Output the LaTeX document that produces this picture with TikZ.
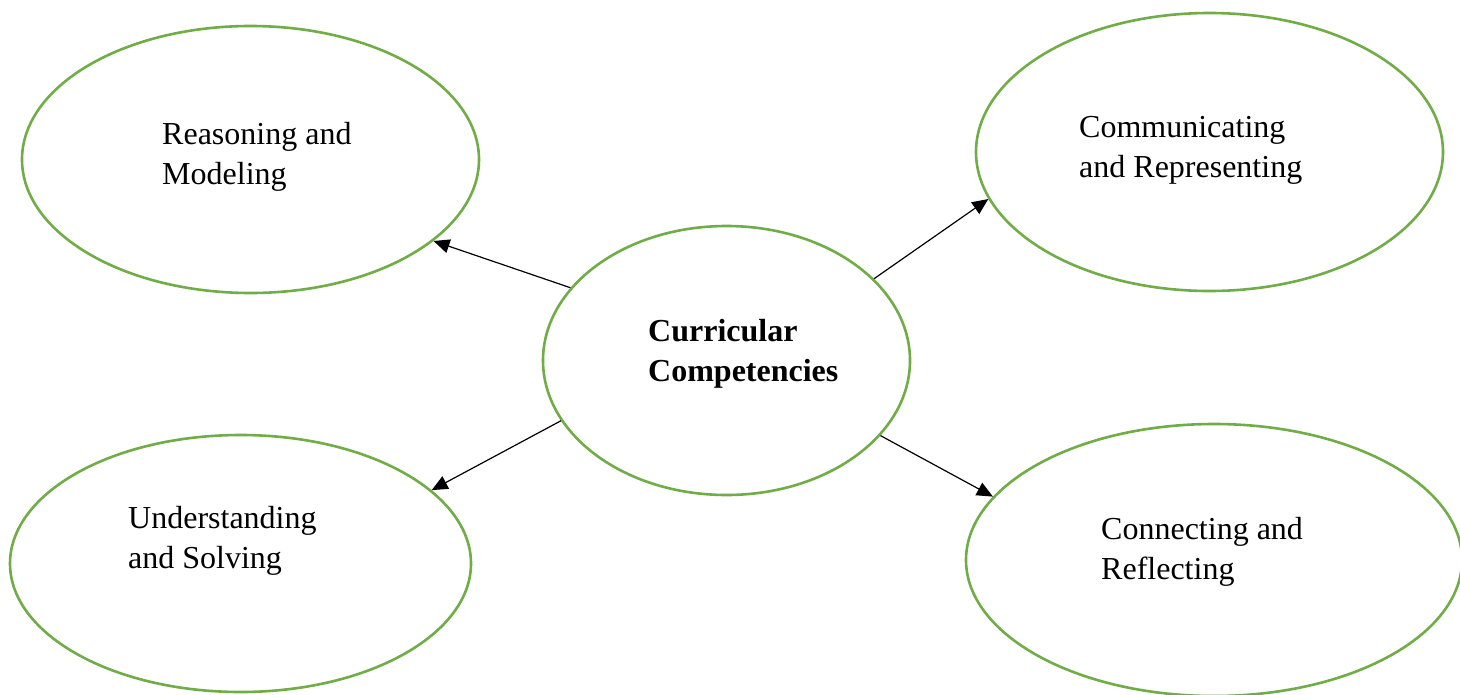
\documentclass[tikz,border=0pt]{standalone}
\usepackage{fontspec}
\setmainfont{Liberation Serif}
\usetikzlibrary{shapes.geometric,arrows.meta}
\definecolor{ovalgreen}{HTML}{70AD47}
\begin{document}
\begin{tikzpicture}[x=1pt,y=-1pt,
  oval/.style={ellipse,draw=ovalgreen,line width=2.6pt,inner sep=0pt,fill=white},
  lbl/.style={anchor=west,align=left,inner sep=0pt,font=\fontsize{32}{40}\selectfont},
  arr/.style={draw=black,line width=1.2pt,-{Triangle[length=16pt,width=14pt]}}]
\useasboundingbox[fill=white] (0,0) rectangle (1460,694);
\node[oval,minimum width=457pt,minimum height=267pt] (tl) at (250.5,159.5) {};
\node[oval,minimum width=467pt,minimum height=278pt] (tr) at (1209.5,152) {};
\node[oval,minimum width=367pt,minimum height=269pt] (c) at (726.5,360.5) {};
\node[oval,minimum width=461pt,minimum height=257pt] (bl) at (240.5,563.5) {};
\node[oval,minimum width=496pt,minimum height=272pt] (br) at (1214,560) {};
\node[lbl] (tltext) at (162,156.5) {Reasoning and\\Modeling};
\node[lbl] (trtext) at (1079,150.5) {Communicating\\and Representing};
\node[lbl,font=\fontsize{32}{40}\selectfont\bfseries] (ctext) at (648,353.5) {Curricular\\Competencies};
\node[lbl] (bltext) at (128,541) {Understanding\\and Solving};
\node[lbl] (brtext) at (1101,551.5) {Connecting and\\Reflecting};
\draw[arr] (c.155.4) -- (tl.336.1);
\draw[arr] (c.29) -- (tr.192.5);
\draw[arr] (c.200.7) -- (bl.21.2);
\draw[arr] (c.334) -- (br.164.1);
\end{tikzpicture}
\end{document}
